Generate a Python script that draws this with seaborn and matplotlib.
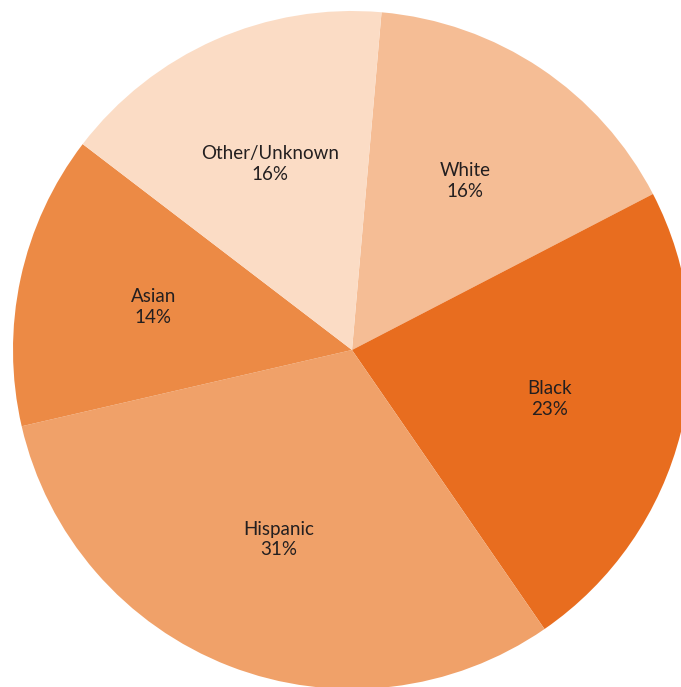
import matplotlib
matplotlib.use("Agg")
import matplotlib.pyplot as plt
import seaborn as sns

# Share of students by race/ethnicity, listed clockwise from the top
groups = ["White", "Black", "Hispanic", "Asian", "Other/Unknown"]
shares = [16, 23, 31, 14, 16]
colors = ["#F5BD95", "#E86D1F", "#F0A169", "#EC8A45", "#FBDCC5"]

sns.set_theme(style="white")
plt.rcParams["font.family"] = ["Lato", "DejaVu Sans"]

fig = plt.figure(figsize=(6.81, 6.87), dpi=100)
ax = fig.add_axes([0, 0, 1, 1])
ax.set_xlim(0, 681)
ax.set_ylim(0, 687)
ax.set_aspect("equal")
ax.axis("off")

labels = [f"{g}\n{s}%" for g, s in zip(groups, shares)]
wedges, texts = ax.pie(
    shares,
    labels=labels,
    colors=colors,
    startangle=85,
    counterclock=False,
    center=(352, 337),
    radius=339,
    labeldistance=0.6,
    wedgeprops=dict(linewidth=0),
    textprops=dict(fontsize=13.5, color="#231F20", ha="center", va="center",
                   linespacing=1.25),
    frame=True,
)
for t in texts:
    t.set_horizontalalignment("center")
ax.set_xlim(0, 681)
ax.set_ylim(0, 687)
ax.axis("off")

fig.savefig("out.png", dpi=100)
